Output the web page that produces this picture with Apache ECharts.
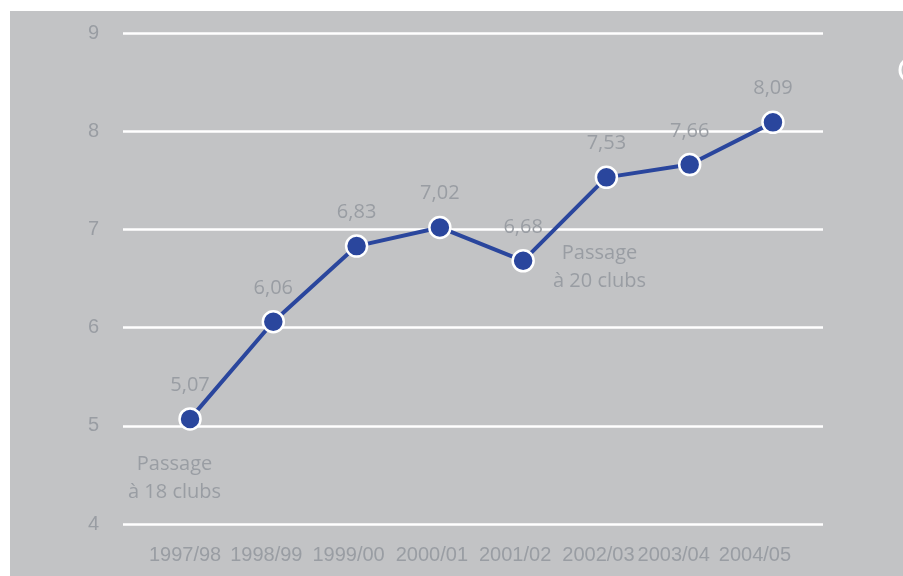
<!DOCTYPE html>
<html>
<head>
<meta charset="utf-8">
<script src="https://cdn.jsdelivr.net/npm/echarts@6/dist/echarts.min.js"></script>
<style>
  html, body { margin: 0; padding: 0; background: #ffffff; }
  #chart { position: absolute; left: 10px; top: 11px; width: 893px; height: 565px; background: #c2c3c5; }
</style>
</head>
<body>
<div id="chart"></div>
<script>
// Seasons and average values
const seasons = ['1997/98', '1998/99', '1999/00', '2000/01', '2001/02', '2002/03', '2003/04', '2004/05'];
const values = [5.07, 6.06, 6.83, 7.02, 6.68, 7.53, 7.66, 8.09];
const yTicks = [4, 5, 6, 7, 8, 9];
const notes = ['Passage\nà 18 clubs', 'Passage\nà 20 clubs'];

const textGray = '#999da3';
const lineBlue = '#2a469d';
const axisFont = 'Liberation Sans';
// leftward nudge (px) of each season label under its tick
const labelNudge = [5, 7, 8, 8, 8, 8, 16, 18];

const chart = echarts.init(document.getElementById('chart'));
const rich = {};
labelNudge.forEach((n, i) => {
  rich['l' + i] = { color: textGray, fontFamily: axisFont, fontSize: 20, padding: [0, 2 * n, 0, 0] };
});

chart.setOption({
  animation: false,
  grid: [
    { left: 113, right: 80, top: 22, bottom: 52 },
    { left: 138.4, right: 88.4, top: 22, bottom: 52 }
  ],
  xAxis: [
    { gridIndex: 0, type: 'category', data: seasons, show: false },
    {
      gridIndex: 1, type: 'category', data: seasons, boundaryGap: true,
      axisLine: { show: false }, axisTick: { show: false },
      axisLabel: {
        interval: 0, hideOverlap: false, margin: 21,
        color: textGray, fontFamily: axisFont, fontSize: 20,
        formatter: (v, i) => '{l' + i + '|' + v + '}',
        rich: rich
      }
    }
  ],
  yAxis: [
    {
      gridIndex: 0, type: 'value', min: yTicks[0], max: yTicks[yTicks.length - 1], interval: 1,
      axisLine: { show: false }, axisTick: { show: false },
      splitLine: { lineStyle: { color: '#ffffff', width: 2.5 } },
      axisLabel: { margin: 24, color: textGray, fontFamily: axisFont, fontSize: 20 }
    },
    {
      gridIndex: 1, type: 'value', min: yTicks[0], max: yTicks[yTicks.length - 1], interval: 1,
      show: false
    }
  ],
  series: [{
    type: 'line',
    xAxisIndex: 1, yAxisIndex: 1,
    data: values,
    symbol: 'circle', symbolSize: 21,
    lineStyle: { color: lineBlue, width: 4 },
    itemStyle: { color: lineBlue, borderColor: '#ffffff', borderWidth: 2.5 },
    label: {
      show: true, position: 'top', distance: 12,
      color: textGray, fontFamily: 'Open Sans', fontSize: 20,
      formatter: p => p.value.toFixed(2).replace('.', ',')
    },
    z: 5
  }],
  graphic: [
    {
      type: 'text', left: 170 - 10 - 42, top: 450 - 11,
      style: { text: notes[0], fill: textGray, font: '20px "Open Sans"', textAlign: 'center', lineHeight: 28 }
    },
    {
      type: 'text', left: 595 - 10 - 42, top: 239 - 11,
      style: { text: notes[1], fill: textGray, font: '20px "Open Sans"', textAlign: 'center', lineHeight: 28 }
    },
    {
      type: 'circle', shape: { cx: 902, cy: 59, r: 12 },
      style: { fill: 'none', stroke: '#ffffff', lineWidth: 3 }
    }
  ]
});
</script>
</body>
</html>
